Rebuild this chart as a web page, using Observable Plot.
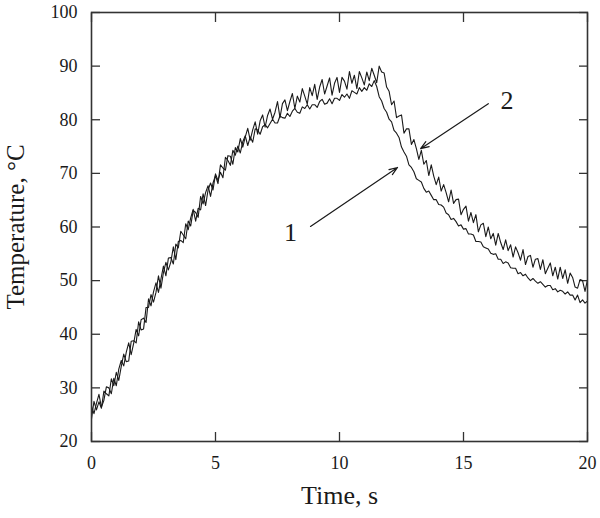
<!DOCTYPE html>
<html>
<head>
<meta charset="utf-8">
<script src="https://cdn.jsdelivr.net/npm/d3@7"></script>
<script src="https://cdn.jsdelivr.net/npm/@observablehq/plot@0.6"></script>
<style>
  html, body { margin: 0; padding: 0; background: #fff; }
  svg text { font-family: 'Liberation Serif', 'Times New Roman', serif; }
</style>
</head>
<body>
<div id="chart"></div>
<script>
// time step of the recorded samples, seconds
const timeStep = 0.1;

// Curve 1 (°C), sampled every 0.1 s from 0 to 20 s
const curve1 = [
  24.2, 27.5, 25.9, 27.4, 26.2, 29.4, 28.9, 28.5, 31.7, 30.4,
  32.9, 31.4, 34.0, 36.3, 34.9, 35.0, 38.7, 38.8, 38.4, 42.3,
  40.8, 41.0, 45.0, 45.0, 47.4, 46.0, 47.8, 50.9, 48.6, 51.5,
  53.4, 52.0, 53.5, 56.3, 53.9, 57.3, 57.5, 57.1, 60.6, 59.5,
  61.7, 63.3, 61.1, 63.5, 63.2, 66.2, 64.0, 66.9, 68.2, 66.9,
  69.9, 68.7, 70.2, 69.2, 73.0, 72.4, 71.5, 74.3, 73.4, 75.1,
  73.8, 75.9, 77.0, 75.2, 76.8, 75.8, 78.3, 78.1, 77.3, 78.7,
  79.1, 78.5, 79.3, 80.1, 79.4, 79.4, 80.7, 80.4, 80.3, 81.2,
  80.6, 81.6, 82.1, 81.4, 81.2, 82.4, 82.1, 82.8, 82.0, 82.8,
  82.8, 82.3, 83.4, 83.8, 82.9, 83.1, 83.9, 83.0, 84.0, 84.0,
  83.6, 84.7, 84.2, 84.8, 84.0, 85.4, 85.1, 84.8, 86.0, 85.3,
  86.0, 85.5, 86.7, 86.2, 87.3, 86.2, 84.3, 83.5, 82.1, 81.4,
  80.1, 79.6, 78.0, 77.5, 76.7, 74.9, 74.0, 73.2, 71.6, 71.1,
  70.3, 69.0, 68.7, 68.4, 67.2, 66.5, 66.7, 65.9, 65.1, 65.1,
  64.2, 64.1, 63.7, 62.6, 62.3, 61.4, 61.6, 61.0, 60.2, 60.4,
  59.6, 59.7, 58.7, 58.7, 58.5, 57.3, 57.3, 57.2, 56.3, 56.1,
  55.9, 55.1, 54.9, 55.0, 54.0, 54.0, 53.2, 53.5, 53.3, 52.4,
  52.3, 52.3, 51.3, 51.5, 50.9, 51.2, 50.5, 50.0, 50.4, 49.9,
  49.5, 49.8, 49.3, 48.8, 49.1, 49.1, 48.3, 48.5, 47.9, 48.2,
  48.0, 47.5, 47.9, 47.3, 47.3, 46.4, 47.3, 45.9, 46.4, 45.8,
  46.2
];

// Curve 2 (°C), sampled every 0.1 s from 0 to 20 s
const curve2 = [
  26.6, 25.2, 27.1, 28.8, 26.4, 27.7, 30.2, 30.0, 28.9, 31.8,
  30.4, 33.5, 35.1, 34.1, 36.6, 38.4, 36.2, 38.3, 40.9, 39.7,
  42.7, 43.0, 42.2, 46.6, 45.3, 47.9, 49.6, 47.8, 50.3, 52.7,
  50.9, 54.2, 54.3, 53.1, 56.8, 56.1, 59.2, 58.5, 57.8, 61.1,
  60.2, 63.1, 62.7, 61.8, 65.7, 64.3, 66.4, 67.7, 65.7, 68.2,
  69.6, 68.1, 71.6, 71.0, 70.6, 73.3, 73.2, 71.7, 74.8, 74.0,
  76.5, 74.9, 76.8, 78.4, 76.2, 78.1, 79.6, 77.3, 79.8, 80.9,
  78.6, 80.8, 82.0, 80.1, 81.4, 83.4, 80.4, 83.0, 83.7, 81.7,
  83.4, 84.9, 82.1, 84.4, 83.3, 85.8, 84.4, 82.9, 86.0, 84.5,
  86.6, 83.8, 86.1, 87.5, 84.8, 86.3, 87.8, 84.6, 86.8, 87.9,
  85.1, 87.9, 87.2, 85.7, 89.0, 86.8, 88.3, 85.8, 89.0, 87.8,
  86.5, 88.9, 87.3, 89.6, 88.3, 86.9, 90.0, 88.9, 88.7, 86.1,
  85.3, 82.8, 83.5, 80.4, 80.7, 80.9, 77.5, 78.3, 78.3, 75.4,
  76.3, 74.6, 72.6, 74.3, 71.7, 72.4, 69.6, 71.6, 69.5, 67.9,
  69.3, 66.7, 67.9, 66.4, 64.7, 66.9, 64.4, 65.1, 65.2, 62.3,
  63.3, 63.9, 61.1, 62.7, 60.8, 62.3, 59.1, 60.4, 60.7, 58.2,
  60.0, 57.8, 58.8, 56.6, 58.8, 57.1, 55.8, 57.6, 55.6, 56.7,
  54.4, 56.3, 55.2, 53.8, 55.8, 53.0, 54.5, 54.7, 52.5, 54.0,
  54.1, 52.1, 53.9, 51.3, 52.3, 53.3, 50.9, 52.5, 50.3, 52.5,
  50.4, 52.0, 49.5, 51.4, 50.6, 48.8, 48.6, 50.2, 50.0, 48.0,
  50.2
];

// Axis ticks
const xTicks = [0, 5, 10, 15, 20];
const yTicks = [20, 30, 40, 50, 60, 70, 80, 90, 100];

// Annotation labels and arrows (data units: seconds, °C)
const labelText = ["1", "2"];
const labelTime = [8.02, 16.75];
const labelTemp = [59.0, 83.6];
const arrowTime1 = [8.83, 16.0];
const arrowTemp1 = [60.1, 83.0];
const arrowTime2 = [12.34, 13.27];
const arrowTemp2 = [71.1, 74.6];

const rows1 = curve1.map((v, i) => ({t: i * timeStep, T: v}));
const rows2 = curve2.map((v, i) => ({t: i * timeStep, T: v}));
const labels = labelText.map((s, i) => ({s, t: labelTime[i], T: labelTemp[i]}));
const arrows = arrowTime1.map((t, i) => ({t1: t, T1: arrowTemp1[i], t2: arrowTime2[i], T2: arrowTemp2[i]}));

const font = "'Liberation Serif', 'Times New Roman', serif";
const ink = "#1a1a1a";

const chart = Plot.plot({
  width: 600,
  height: 518,
  marginLeft: 91,
  marginRight: 13,
  marginTop: 12,
  marginBottom: 77,
  style: {fontFamily: font, fontSize: "18px", color: ink, background: "#fff"},
  x: {domain: [0, 20], label: null},
  y: {domain: [20, 100], label: null},
  marks: [
    // inward ticks on all four sides
    Plot.axisX(xTicks, {anchor: "bottom", tickSize: -9, tickFormat: () => "", stroke: "#333", strokeWidth: 1.3}),
    Plot.axisX(xTicks, {anchor: "top", tickSize: -9, tickFormat: () => "", stroke: "#333", strokeWidth: 1.3}),
    Plot.axisY(yTicks, {anchor: "left", tickSize: -9, tickFormat: () => "", stroke: "#333", strokeWidth: 1.3}),
    Plot.axisY(yTicks, {anchor: "right", tickSize: -9, tickFormat: () => "", stroke: "#333", strokeWidth: 1.3}),
    // tick labels
    Plot.axisX(xTicks, {anchor: "bottom", tickSize: 0, tickPadding: 15, fontSize: 18, fontFamily: font, fill: ink}),
    Plot.axisY(yTicks, {anchor: "left", tickSize: 0, tickPadding: 14, fontSize: 18, fontFamily: font, fill: ink}),
    // data
    Plot.line(rows1, {x: "t", y: "T", stroke: ink, strokeWidth: 1.1}),
    Plot.line(rows2, {x: "t", y: "T", stroke: ink, strokeWidth: 1.1}),
    // annotations
    Plot.arrow(arrows, {x1: "t1", y1: "T1", x2: "t2", y2: "T2", stroke: ink, strokeWidth: 1.2, headLength: 11, headAngle: 40}),
    Plot.text(labels, {x: "t", y: "T", text: "s", fontSize: 26, fontFamily: font, fill: ink}),
    // axis titles
    Plot.text(["Time, s"], {frameAnchor: "bottom", dy: 62, fontSize: 26, fontFamily: font, fill: ink}),
    Plot.text(["Temperature, °C"], {frameAnchor: "left", dx: -76, rotate: -90, textAnchor: "middle", lineAnchor: "middle", fontSize: 25, fontFamily: font, fill: ink}),
    Plot.frame({stroke: "#333", strokeWidth: 1.6})
  ]
});

document.getElementById("chart").appendChild(chart);
</script>
</body>
</html>
